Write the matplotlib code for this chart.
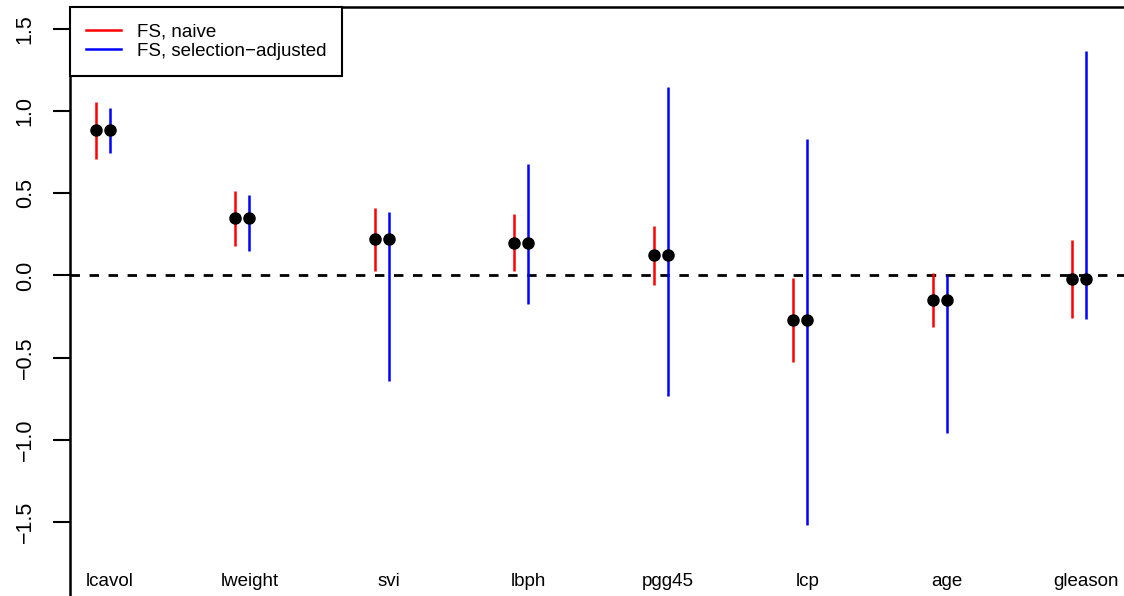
import matplotlib
matplotlib.use("Agg")
import matplotlib.pyplot as plt
import numpy as np
from matplotlib.lines import Line2D

plt.rcParams['font.family'] = ['Liberation Sans', 'DejaVu Sans']

variables = ["lcavol", "lweight", "svi", "lbph", "pgg45", "lcp", "age", "gleason"]
estimates = [0.882, 0.349, 0.221, 0.199, 0.126, -0.268, -0.150, -0.024]
naive_lower = [0.710, 0.182, 0.030, 0.026, -0.055, -0.525, -0.314, -0.261]
naive_upper = [1.054, 0.513, 0.412, 0.375, 0.302, -0.013, 0.017, 0.216]
adj_lower = [0.744, 0.152, -0.643, -0.176, -0.730, -1.520, -0.957, -0.267]
adj_upper = [1.020, 0.491, 0.389, 0.680, 1.145, 0.828, 0.004, 1.364]
yticks = [-1.5, -1.0, -0.5, 0.0, 0.5, 1.0, 1.5]

W, H = 1124, 596
fig = plt.figure(figsize=(W / 100, H / 100), dpi=100)
ax = fig.add_axes([70 / W, (H - 610) / H, (1150 - 70) / W, (610 - 7) / H])

x = np.arange(1, len(variables) + 1)
xb = x + 0.1

red, blue = "#FF0000", "#0000FF"
ax.axhline(0, color="black", lw=2.0, linestyle=(0, (3.4, 3.45)), zorder=1)
ax.vlines(x, naive_lower, naive_upper, color=red, lw=1.8, zorder=2)
ax.vlines(xb, adj_lower, adj_upper, color=blue, lw=1.8, zorder=2)
ax.plot(x, estimates, "o", color="black", ms=8, zorder=3)
ax.plot(xb, estimates, "o", color="black", ms=8, zorder=3)

ax.set_xlim(1 + (70 - 96) / 139.47, 1 + (1150 - 96) / 139.47)
ax.set_ylim((275.5 - 610) / 164.4, (275.5 - 7) / 164.4)

ax.set_xticks([])
ax.set_yticks(yticks)
ax.set_yticklabels([("\u2212" if v < 0 else "") + f"{abs(v):.1f}" for v in yticks],
                   rotation=90, va="center", fontsize=15.5)
ax.tick_params(axis="y", direction="out", length=12.2, width=1.5, pad=12.5)
for s in ax.spines.values():
    s.set_linewidth(1.8)

label_y = (275.5 - 586.5) / 164.4
for xi, name in zip(xb, variables):
    ax.text(xi, label_y, name, ha="center", va="baseline", fontsize=13.5)

handles = [Line2D([], [], color=red, lw=1.8), Line2D([], [], color=blue, lw=1.8)]
leg = ax.legend(handles, ["FS, naive", "FS, selection\u2212adjusted"], loc="upper left",
                bbox_to_anchor=(0, 1), borderaxespad=0, fancybox=False, framealpha=1,
                edgecolor="black", fontsize=13.5, handlelength=1.85, handletextpad=0.85,
                borderpad=0.85, labelspacing=0.15)
leg.get_frame().set_linewidth(1.5)

fig.savefig("out.png", dpi=100)
